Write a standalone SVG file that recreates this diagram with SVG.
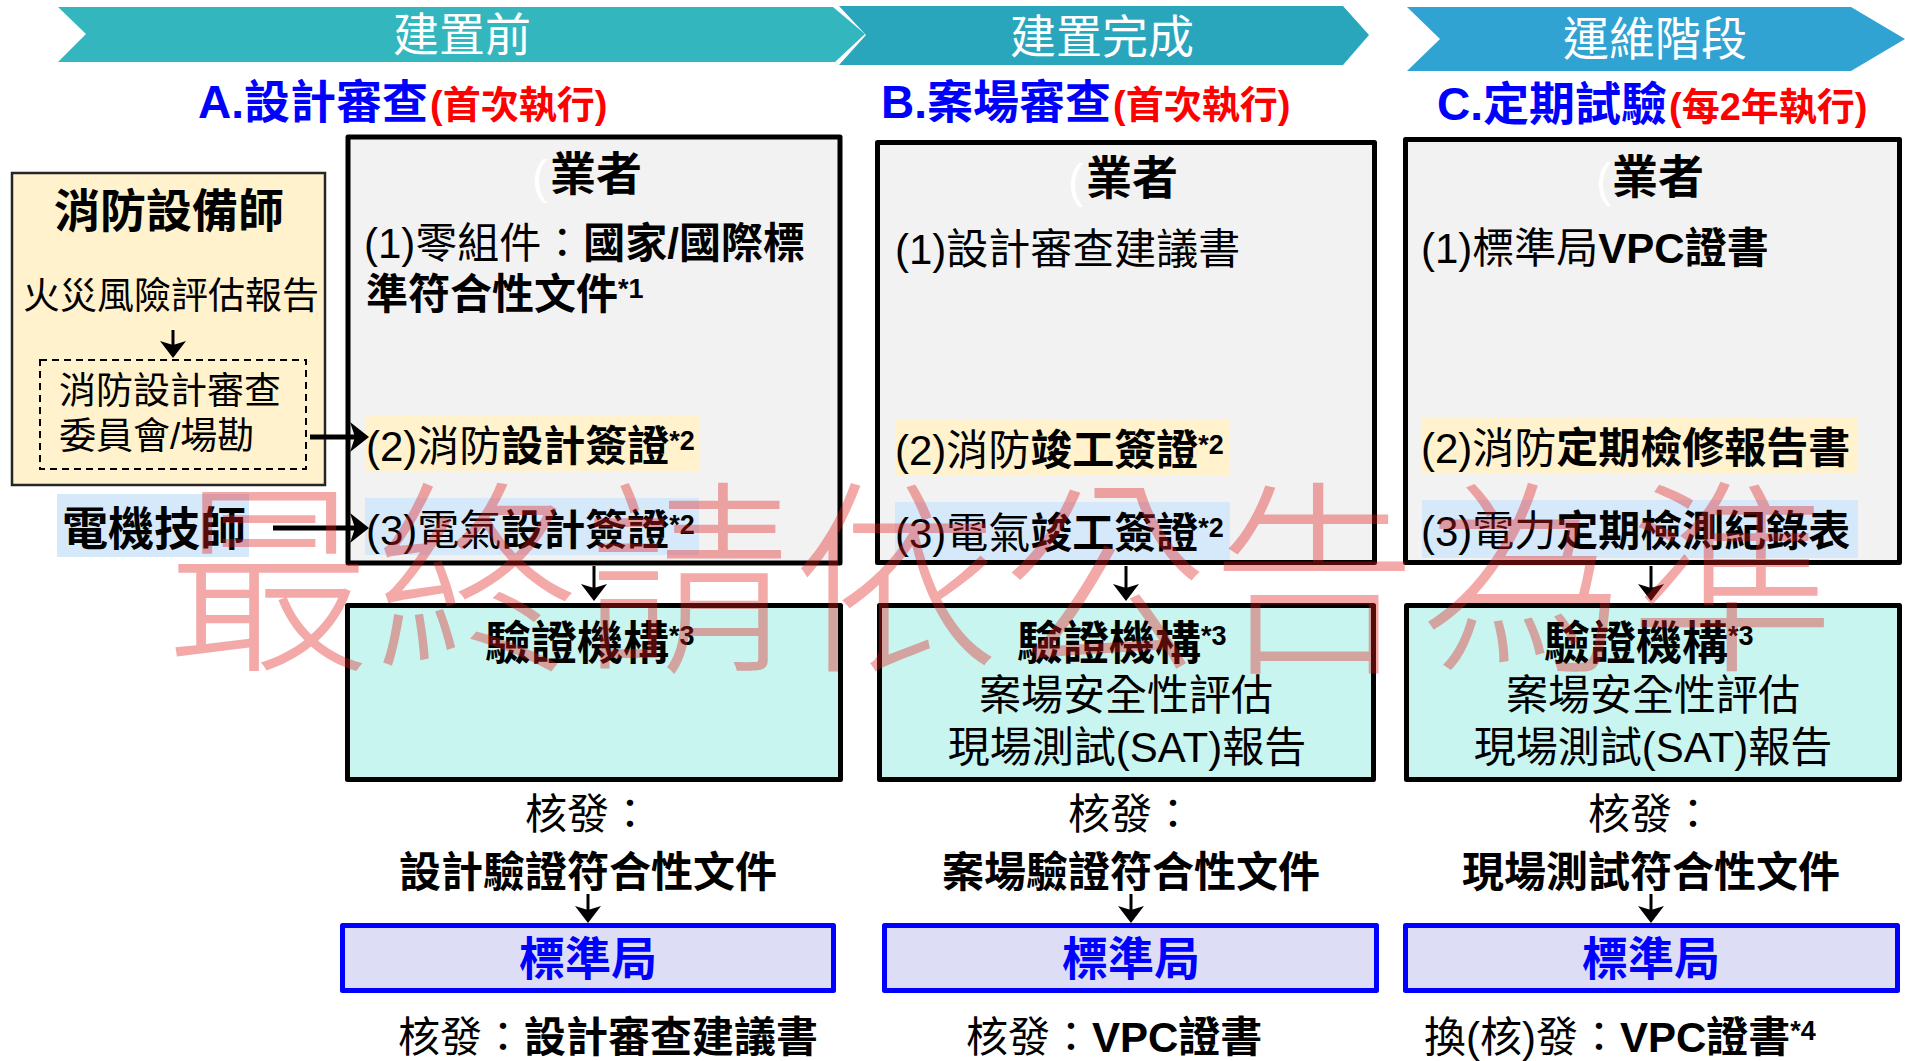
<svg xmlns="http://www.w3.org/2000/svg" width="1905" height="1061" viewBox="0 0 1905 1061">
<style>
text { font-family: "Liberation Sans","Noto Sans CJK TC",sans-serif; fill: #000; }
.b { font-weight: bold; }
.s42 { font-size: 42px; }
.s46 { font-size: 46px; }
.s37 { font-size: 37px; }
.sup { font-size: 27px; font-weight: bold; }
.mid { text-anchor: middle; }
.w { fill: #fff; }
.blue { fill: #0000FF; }
.red { fill: #FF0000; }
.panel { fill: #F2F2F2; stroke: #000; stroke-width: 5; stroke-linejoin: round; }
.verif { fill: #C8F5EF; stroke: #000; stroke-width: 5; stroke-linejoin: round; }
.bsmi { fill: #DDDDF6; stroke: #0000FF; stroke-width: 5; stroke-linejoin: round; }
.hy { fill: #FFF2CC; }
.hb { fill: #D6E9FA; }
.conn { stroke: #000; fill: none; }
</style>
<defs>
<marker id="ah" markerUnits="userSpaceOnUse" viewBox="0 -16 20 32" markerWidth="20" markerHeight="32" refX="5" refY="0" orient="auto">
<path d="M0,-15 L19,0 L0,15 L5,0 Z" fill="#000"/>
</marker>
<marker id="av" markerUnits="userSpaceOnUse" viewBox="0 -14 18 28" markerWidth="18" markerHeight="28" refX="4" refY="0" orient="auto">
<path d="M0,-13 L17,0 L0,13 L4,0 Z" fill="#000"/>
</marker>
</defs>

<g id="phase-banners">
<polygon points="58,7 833,7 865,34 835,62 58,62 86,34" fill="#33B6BE"/>
<polygon points="839,6 1343,6 1369,35 1343,65 839,65 866,35" fill="#2AA6BC"/>
<polygon points="1407,7 1851,7 1905,39 1851,71 1407,71 1440,39" fill="#31A3D3"/>
<text class="s46 w mid" x="462" y="51">建置前</text>
<text class="s46 w mid" x="1102" y="53">建置完成</text>
<text class="s46 w mid" x="1655" y="55">運維階段</text>
</g>

<g id="titles">
<text class="s46 b blue" x="198" y="118">A.設計審查<tspan class="red" font-size="38" dx="2">(首次執行)</tspan></text>
<text class="s46 b blue" x="881" y="118">B.案場審查<tspan class="red" font-size="38" dx="2">(首次執行)</tspan></text>
<text class="s46 b blue" x="1437" y="120">C.定期試驗<tspan class="red" font-size="38" dx="2">(每2年執行)</tspan></text>
</g>

<g id="fire-engineer">
<rect x="12" y="173" width="313" height="312" fill="#FFF2CC" stroke="#262626" stroke-width="2.5"/>
<text class="s46 b mid" x="169" y="227">消防設備師</text>
<text class="s37 mid" x="171" y="309">火災風險評估報告</text>
<rect x="40" y="360" width="266" height="109" fill="none" stroke="#000" stroke-width="2" stroke-dasharray="7,5"/>
<text class="s37" x="59" y="404">消防設計審查</text>
<text class="s37" x="59" y="449">委員會/場勘</text>
</g>

<g id="electrical-engineer">
<rect x="57" y="494" width="192" height="63" class="hb"/>
<text class="s46 b" x="62" y="545">電機技師</text>
</g>

<g id="operator-A">
<rect x="348" y="137" width="492" height="426" class="panel"/>
<text x="532" y="193" class="w" font-size="46">(</text>
<text class="s46 b mid" x="596" y="190">業者</text>
<text class="s42" x="364" y="258">(1)零組件：<tspan class="b">國家/國際標</tspan></text>
<text class="s42 b" x="366" y="309">準符合性文件<tspan class="sup" font-size="25" dy="-11">*1</tspan></text>
<rect x="365" y="415" width="334" height="57" class="hy"/>
<text class="s42" x="366" y="461">(2)消防<tspan class="b">設計簽證</tspan><tspan class="sup" dy="-11">*2</tspan></text>
<rect x="365" y="498" width="334" height="57" class="hb"/>
<text class="s42" x="366" y="545">(3)電氣<tspan class="b">設計簽證</tspan><tspan class="sup" dy="-11">*2</tspan></text>
</g>

<g id="operator-B">
<rect x="877.5" y="142.5" width="497" height="420" class="panel"/>
<text x="1068" y="197" class="w" font-size="46">(</text>
<text class="s46 b mid" x="1132" y="194">業者</text>
<text class="s42" x="895" y="264">(1)設計審查建議書</text>
<rect x="895" y="419" width="335" height="57" class="hy"/>
<text class="s42" x="895" y="465">(2)消防<tspan class="b">竣工簽證</tspan><tspan class="sup" dy="-11">*2</tspan></text>
<rect x="895" y="502" width="335" height="58" class="hb"/>
<text class="s42" x="895" y="548">(3)電氣<tspan class="b">竣工簽證</tspan><tspan class="sup" dy="-11">*2</tspan></text>
</g>

<g id="operator-C">
<rect x="1405.5" y="139.5" width="494" height="423" class="panel"/>
<text x="1596" y="196" class="w" font-size="46">(</text>
<text class="s46 b mid" x="1658" y="193">業者</text>
<text class="s42" x="1421" y="263">(1)標準局<tspan class="b">VPC證書</tspan></text>
<rect x="1422" y="417" width="436" height="57" class="hy"/>
<text class="s42" x="1421" y="463">(2)消防<tspan class="b">定期檢修報告書</tspan></text>
<rect x="1422" y="500" width="436" height="58" class="hb"/>
<text class="s42" x="1421" y="546">(3)電力<tspan class="b">定期檢測紀錄表</tspan></text>
</g>

<g id="verifier-A">
<rect x="347.5" y="605.5" width="493" height="174" class="verif"/>
<text class="s46 b" x="485" y="659">驗證機構<tspan class="sup" font-size="28" dy="-14">*3</tspan></text>
</g>

<g id="verifier-B">
<rect x="879.5" y="605.5" width="494" height="174" class="verif"/>
<text class="s46 b" x="1017" y="659">驗證機構<tspan class="sup" font-size="28" dy="-14">*3</tspan></text>
<text class="s42 mid" x="1126" y="710">案場安全性評估</text>
<text class="s42 mid" x="1127" y="762">現場測試(SAT)報告</text>
</g>

<g id="verifier-C">
<rect x="1406.5" y="605.5" width="493" height="174" class="verif"/>
<text class="s46 b" x="1544" y="659">驗證機構<tspan class="sup" font-size="28" dy="-14">*3</tspan></text>
<text class="s42 mid" x="1653" y="710">案場安全性評估</text>
<text class="s42 mid" x="1653" y="762">現場測試(SAT)報告</text>
</g>

<g id="issue-labels">
<text class="s42 mid" x="588" y="829">核發：</text>
<text class="s42 b mid" x="588" y="887">設計驗證符合性文件</text>
<text class="s42 mid" x="1131" y="829">核發：</text>
<text class="s42 b mid" x="1131" y="887">案場驗證符合性文件</text>
<text class="s42 mid" x="1651" y="829">核發：</text>
<text class="s42 b mid" x="1651" y="887">現場測試符合性文件</text>
</g>

<g id="bsmi-A">
<rect x="342.5" y="925.5" width="491" height="65" class="bsmi"/>
<text class="s46 b blue mid" x="588" y="975">標準局</text>
</g>
<g id="bsmi-B">
<rect x="884.5" y="925.5" width="492" height="65" class="bsmi"/>
<text class="s46 b blue mid" x="1131" y="975">標準局</text>
</g>
<g id="bsmi-C">
<rect x="1405.5" y="925.5" width="492" height="65" class="bsmi"/>
<text class="s46 b blue mid" x="1651" y="975">標準局</text>
</g>

<g id="results">
<text class="s42" x="398" y="1052">核發：<tspan class="b">設計審查建議書</tspan></text>
<text class="s42" x="966" y="1052">核發：<tspan class="b">VPC證書</tspan></text>
<text class="s42" x="1424" y="1052">換(核)發：<tspan class="b">VPC證書</tspan><tspan class="sup" dy="-12">*4</tspan></text>
</g>

<g id="connectors">
<line class="conn" x1="173" y1="330" x2="173" y2="345" stroke-width="3" marker-end="url(#av)"/>
<line class="conn" x1="310" y1="437" x2="355" y2="437" stroke-width="5" marker-end="url(#ah)"/>
<line class="conn" x1="273" y1="528" x2="355" y2="528" stroke-width="5" marker-end="url(#ah)"/>
<line class="conn" x1="594" y1="566" x2="594" y2="588" stroke-width="3" marker-end="url(#av)"/>
<line class="conn" x1="1126" y1="566" x2="1126" y2="588" stroke-width="3" marker-end="url(#av)"/>
<line class="conn" x1="1651" y1="566" x2="1651" y2="588" stroke-width="3" marker-end="url(#av)"/>
<line class="conn" x1="588" y1="894" x2="588" y2="910" stroke-width="3" marker-end="url(#av)"/>
<line class="conn" x1="1131" y1="894" x2="1131" y2="910" stroke-width="3" marker-end="url(#av)"/>
<line class="conn" x1="1651" y1="894" x2="1651" y2="910" stroke-width="3" marker-end="url(#av)"/>
</g>

<g id="watermark">
<text x="166" y="655" font-size="206" letter-spacing="3" font-weight="300" style="font-family:'Noto Sans CJK TC',sans-serif;fill:#E31E1E;fill-opacity:0.38">最終請依公告為準</text>
</g>
</svg>
